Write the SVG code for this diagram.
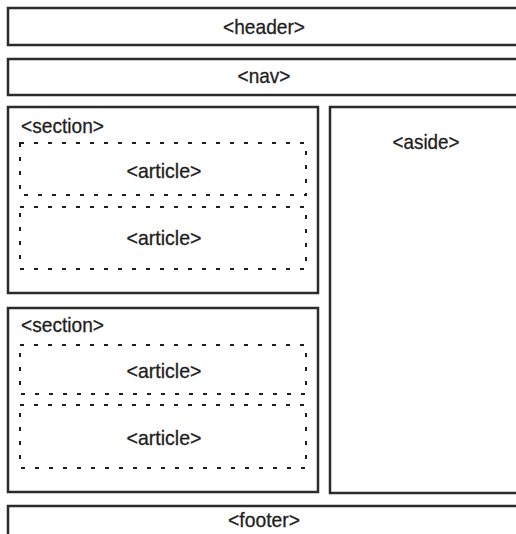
<svg xmlns="http://www.w3.org/2000/svg" width="516" height="534" viewBox="0 0 516 534">
<style>
.box{fill:#fff;stroke:#2b2b2b;stroke-width:2.5}
.art{fill:none;stroke:#1e1e1e;stroke-width:2;stroke-dasharray:4 10}
text{font-family:"Liberation Sans",Arial,sans-serif;font-size:21px;fill:#1e1e1e;stroke:#1e1e1e;stroke-width:0.3}
.c{text-anchor:middle}
</style>
<rect width="516" height="534" fill="#fff"/>
<g id="header"><rect class="box" x="8" y="8" width="515" height="37"/><text class="c" x="264" y="34" textLength="82" lengthAdjust="spacingAndGlyphs">&lt;header&gt;</text></g>
<g id="nav"><rect class="box" x="8" y="59" width="515" height="36"/><text class="c" x="264" y="83" textLength="53" lengthAdjust="spacingAndGlyphs">&lt;nav&gt;</text></g>
<g id="section1"><rect class="box" x="8" y="107" width="310" height="186"/><text x="21" y="133" textLength="83" lengthAdjust="spacingAndGlyphs">&lt;section&gt;</text>
<g id="article1"><rect class="art" x="20" y="143" width="286" height="52"/><text class="c" x="164" y="178" textLength="75" lengthAdjust="spacingAndGlyphs">&lt;article&gt;</text></g>
<g id="article2"><rect class="art" x="20" y="207" width="286" height="62"/><text class="c" x="164" y="245" textLength="75" lengthAdjust="spacingAndGlyphs">&lt;article&gt;</text></g>
</g>
<g id="section2"><rect class="box" x="8" y="308" width="310" height="184"/><text x="21" y="332" textLength="83" lengthAdjust="spacingAndGlyphs">&lt;section&gt;</text>
<g id="article3"><rect class="art" x="20" y="345" width="286" height="49"/><text class="c" x="164" y="378" textLength="75" lengthAdjust="spacingAndGlyphs">&lt;article&gt;</text></g>
<g id="article4"><rect class="art" x="20" y="405" width="286" height="63"/><text class="c" x="164" y="445" textLength="75" lengthAdjust="spacingAndGlyphs">&lt;article&gt;</text></g>
</g>
<g id="aside"><rect class="box" x="330" y="107" width="193" height="386"/><text class="c" x="426" y="149" textLength="67" lengthAdjust="spacingAndGlyphs">&lt;aside&gt;</text></g>
<g id="footer"><rect class="box" x="8" y="506" width="515" height="40"/><text class="c" x="264" y="527" textLength="72" lengthAdjust="spacingAndGlyphs">&lt;footer&gt;</text></g>
<g id="connectors"/>
</svg>
